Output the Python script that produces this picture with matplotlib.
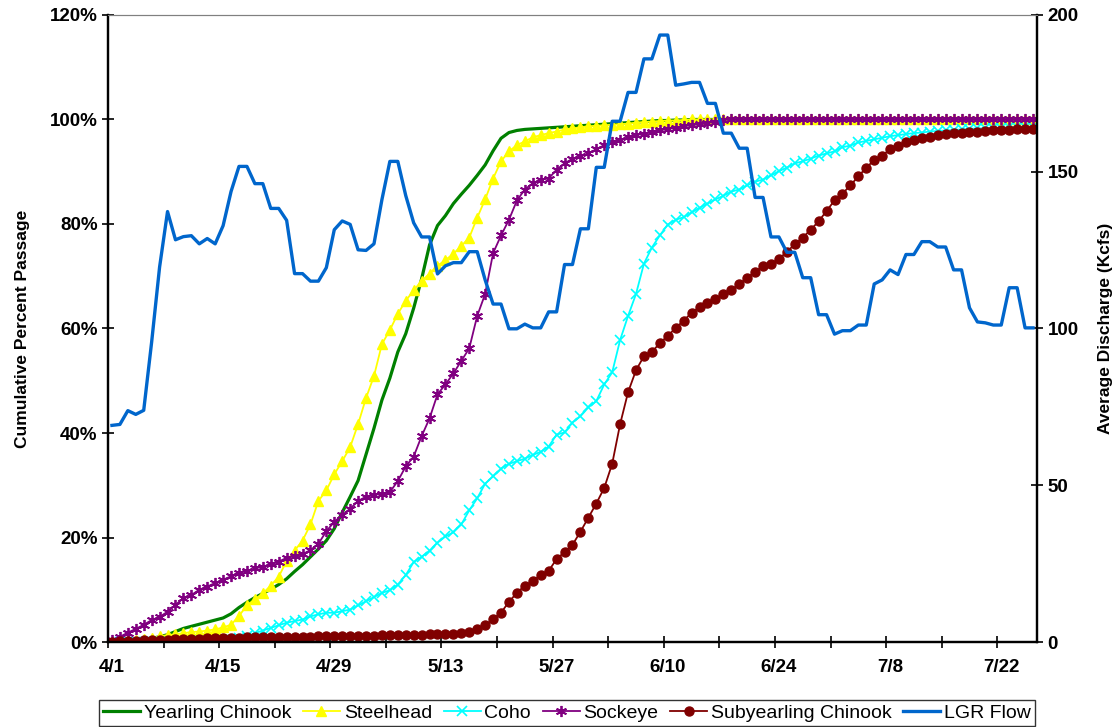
import matplotlib.pyplot as plt
import numpy as np

plt.rcParams['font.family'] = ['Liberation Sans', 'DejaVu Sans']

# daily values from 4/1 (day 0) to 7/26 (day 116)
days = np.arange(117)
date_labels = ['4/1', '4/15', '4/29', '5/13', '5/27', '6/10', '6/24', '7/8', '7/22']

yearling_chinook = [
    0.0, 0.1, 0.2, 0.3, 0.5, 0.7, 1.0, 1.4, 2.0, 2.6,
    3.0, 3.4, 3.8, 4.2, 4.6, 5.4, 6.6, 7.6, 8.5, 9.3,
    10.1, 11.0, 12.1, 13.5, 14.8, 16.3, 17.8, 19.4, 21.7, 24.8,
    27.8, 30.9, 35.9, 40.9, 46.3, 50.5, 55.5, 59.0, 63.9, 69.5,
    76.0, 79.7, 81.6, 83.9, 85.7, 87.4, 89.3, 91.3, 94.0, 96.4,
    97.5, 97.9, 98.1, 98.2, 98.3, 98.4, 98.5, 98.6, 98.7, 98.8,
    98.9, 99.0, 99.1, 99.2, 99.3, 99.4, 99.5, 99.6, 99.7, 99.8,
    99.8, 99.9, 99.9] + [100.0] * 44

steelhead = [
    0.0, 0.1, 0.2, 0.3, 0.5, 0.8, 1.1, 1.3, 1.5, 1.7,
    1.9, 2.0, 2.2, 2.4, 2.8, 3.3, 5.0, 7.0, 8.2, 9.3,
    10.8, 12.5, 15.5, 17.5, 19.4, 22.5, 27.0, 29.0, 32.1, 34.6,
    37.3, 41.7, 46.7, 50.9, 57.0, 59.7, 62.8, 65.3, 67.3, 69.1,
    70.5, 72.0, 73.1, 74.3, 75.8, 77.4, 81.2, 84.7, 88.7, 92.0,
    93.9, 95.1, 95.8, 96.6, 97.0, 97.4, 97.7, 98.1, 98.3, 98.5,
    98.7, 98.8, 98.9, 99.0, 99.1, 99.2, 99.4, 99.5, 99.6, 99.7,
    99.8, 99.8, 99.9] + [100.0] * 44

coho = [
    0.0, 0.0, 0.0, 0.0, 0.0, 0.0, 0.0, 0.0, 0.0, 0.0,
    0.1, 0.1, 0.2, 0.2, 0.3, 0.4, 0.7, 1.1, 1.7, 2.2,
    2.7, 3.2, 3.7, 4.0, 4.3, 4.9, 5.3, 5.6, 5.6, 5.9,
    6.2, 7.0, 7.8, 8.6, 9.4, 9.9, 11.0, 12.8, 15.3, 16.3,
    17.5, 19.0, 20.2, 21.0, 22.5, 25.2, 27.5, 30.3, 31.7, 33.2,
    34.1, 34.6, 35.1, 35.8, 36.4, 37.4, 39.7, 40.1, 42.0, 43.2,
    44.9, 46.1, 49.3, 51.6, 57.8, 62.4, 66.6, 72.4, 75.5, 77.8,
    79.9, 80.8, 81.3, 82.2, 83.1, 83.9, 84.7, 85.4, 86.2, 86.6,
    87.4, 88.1, 88.5, 89.3, 90.1, 90.8, 91.6, 92.0, 92.5, 93.1,
    93.5, 93.9, 94.7, 95.0, 95.6, 95.9, 96.2, 96.5, 96.8, 97.0,
    97.2, 97.4, 97.5, 97.7, 97.8, 97.9, 98.0, 98.1, 98.2, 98.3,
    98.3, 98.4, 98.4, 98.5, 98.5, 98.6, 98.6]

sockeye = [
    0.3, 1.0, 1.8, 2.5, 3.3, 4.2, 4.8, 5.8, 7.1, 8.4,
    9.0, 10.0, 10.6, 11.3, 11.9, 12.6, 13.3, 13.6, 14.1, 14.4,
    14.9, 15.4, 16.1, 16.5, 16.8, 17.6, 18.8, 21.2, 23.0, 24.3,
    25.5, 27.0, 27.8, 28.2, 28.3, 28.7, 30.8, 33.6, 35.5, 39.4,
    42.8, 47.4, 49.3, 51.4, 53.8, 56.2, 62.4, 66.6, 74.4, 77.8,
    80.8, 84.5, 86.6, 87.8, 88.5, 88.7, 90.4, 91.6, 92.5, 93.0,
    93.5, 94.3, 95.1, 95.6, 96.1, 96.6, 97.0, 97.3, 97.6, 97.9,
    98.2, 98.4, 98.7, 98.9, 99.1, 99.3, 99.6, 99.9] + [100.0] * 39

subyearling_chinook = [
    0.0, 0.1, 0.2, 0.2, 0.3, 0.3, 0.4, 0.4, 0.5, 0.5,
    0.6, 0.6, 0.7, 0.7, 0.8, 0.8, 0.8, 0.9, 0.9, 0.9,
    0.9, 1.0, 1.0, 1.0, 1.0, 1.0, 1.1, 1.1, 1.1, 1.1,
    1.1, 1.2, 1.2, 1.2, 1.3, 1.3, 1.3, 1.4, 1.4, 1.4,
    1.5, 1.5, 1.5, 1.6, 1.7, 2.0, 2.5, 3.2, 4.4, 5.6,
    7.7, 9.4, 10.8, 11.6, 12.9, 13.6, 15.9, 17.2, 18.6, 21.1,
    23.8, 26.5, 29.5, 34.1, 41.7, 47.8, 52.0, 54.7, 55.5, 57.2,
    58.6, 60.1, 61.5, 63.0, 64.1, 64.8, 65.6, 66.6, 67.4, 68.5,
    69.7, 70.9, 71.9, 72.4, 73.3, 74.7, 76.1, 77.4, 78.9, 80.5,
    82.5, 84.5, 85.8, 87.4, 89.1, 90.8, 92.2, 93.1, 94.3, 95.0,
    95.6, 96.1, 96.4, 96.7, 97.0, 97.2, 97.4, 97.5, 97.6, 97.7,
    97.8, 97.9, 97.95, 98.0, 98.1, 98.1, 98.2]

lgr_flow = [
    69.1, 69.4, 73.8, 72.6, 73.9, 95.7, 119.6, 137.3, 128.3, 129.3,
    129.6, 127.0, 128.7, 127.0, 132.8, 143.7, 151.7, 151.7, 146.2, 146.2,
    138.3, 138.3, 134.5, 117.5, 117.5, 115.1, 115.1, 119.4, 131.5, 134.3,
    133.2, 125.1, 124.9, 127.0, 141.1, 153.3, 153.3, 142.4, 133.7, 129.2,
    129.2, 117.4, 120.0, 121.0, 121.0, 124.5, 124.5, 115.5, 107.8, 107.8,
    99.9, 99.9, 101.4, 100.2, 100.2, 105.3, 105.3, 120.4, 120.4, 131.8,
    131.8, 151.4, 151.4, 166.1, 166.1, 175.3, 175.3, 186.0, 186.0, 193.6,
    193.6, 177.6, 178.0, 178.5, 178.5, 171.8, 171.8, 162.3, 162.3, 157.5,
    157.5, 141.8, 141.8, 129.2, 129.2, 124.3, 124.3, 116.2, 116.2, 104.4,
    104.4, 98.2, 99.3, 99.3, 101.1, 101.1, 114.2, 115.5, 118.7, 117.2,
    123.6, 123.6, 127.7, 127.7, 126.0, 126.0, 118.7, 118.7, 106.6, 102.1,
    101.8, 101.1, 101.1, 113.0, 113.0, 100.2, 100.2]

fig = plt.figure(figsize=(11.19, 7.27), dpi=100)
ax = fig.add_axes([0.0965, 0.1169, 0.8302, 0.8625])

ax.plot(days, yearling_chinook, color='#008000', lw=2.3, label='Yearling Chinook')
ax.plot(days, steelhead, color='#FFFF00', lw=1.3, marker='^', ms=7.5,
        mec='#FFFF00', label='Steelhead')
ax.plot(days, coho, color='#00FFFF', lw=1.3, marker='x', ms=7, mew=1.2,
        label='Coho')
ax.plot(days, sockeye, color='#800080', lw=1.3, marker=(6, 2, 0), ms=8,
        mew=1.3, label='Sockeye')
ax.plot(days, subyearling_chinook, color='#800000', lw=1.3, marker='o',
        ms=6.5, label='Subyearling Chinook')

ax.set_xlim(-0.5, 116.5)
ax.set_ylim(0, 120)
ax.set_yticks(np.arange(0, 121, 20))
ax.set_yticklabels([f'{v}%' for v in range(0, 121, 20)])
ax.set_xticks(np.arange(-0.5, 116, 7))
ax.set_xticklabels([])
ax.set_xticks(days[::14], minor=True)
ax.set_xticklabels(date_labels, minor=True)
ax.tick_params(which='both', labelsize=13.5)
ax.tick_params(axis='x', which='minor', length=0, pad=12)
ax.tick_params(which='major', direction='inout', length=8, width=1.2)
for lab in ax.get_yticklabels() + ax.get_xticklabels(minor=True):
    lab.set_fontweight('bold')
ax.set_ylabel('Cumulative Percent Passage', fontsize=12.5, fontweight='bold',
              labelpad=14)

ax2 = ax.twinx()
ax2.plot(days, lgr_flow, color='#0066CC', lw=2.4, label='LGR Flow')
ax2.set_ylim(0, 200)
ax2.set_yticks(np.arange(0, 201, 50))
ax2.tick_params(direction='inout', length=8, width=1.2, labelsize=13.5)
for lab in ax2.get_yticklabels():
    lab.set_fontweight('bold')
ax2.set_ylabel('Average Discharge (Kcfs)', fontsize=12.5, fontweight='bold',
               labelpad=14)

for a in (ax, ax2):
    for side in ('left', 'right', 'bottom'):
        a.spines[side].set_linewidth(1.6)
    a.spines['top'].set_color('#808080')
    a.spines['top'].set_linewidth(0.8)

h1, l1 = ax.get_legend_handles_labels()
h2, l2 = ax2.get_legend_handles_labels()
leg = fig.legend(h1 + h2, l1 + l2, loc='center', ncol=6,
                 bbox_to_anchor=(0.5067, 0.0195), fontsize=14, frameon=True,
                 fancybox=False, edgecolor='black', handlelength=1.9,
                 handletextpad=0.2, columnspacing=0.6, borderpad=0.2)
leg.get_frame().set_linewidth(1.0)

fig.savefig('out.png', dpi=100)
